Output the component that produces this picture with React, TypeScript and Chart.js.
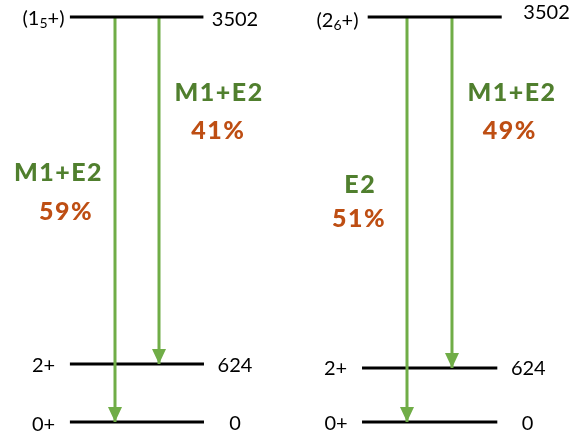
import React, { useEffect, useRef } from 'react';
import { Chart, registerables, LinearScale } from 'chart.js';

// ---------------- data ----------------
const LEVEL_ENERGIES = [3502, 624, 0]; // keV
const ENERGY_LABELS = ['3502', '624', '0'];
const SPINS_LEFT = ['(1₅+)', '2+', '0+'];
const SPINS_RIGHT = ['(2₆+)', '2+', '0+'];
const TRANSITION_FROM = 3502;
const TRANSITION_TO = [0, 624];
const MULTIPOLARITY_LEFT = ['M1+E2', 'M1+E2'];
const BRANCHING_LEFT = [59, 41]; // %
const MULTIPOLARITY_RIGHT = ['E2', 'M1+E2'];
const BRANCHING_RIGHT = [51, 49]; // %

// ---------------- styles / layout ----------------
const W = 573;
const H = 439;
const ARROW_COLOR = '#70AD47';
const MULT_COLOR = '#507F2E';
const BRANCH_COLOR = '#BE4E13';
const LEVEL_COLOR = '#000000';
const FONT = 'Lato, "Open Sans", "DejaVu Sans", sans-serif';
const LABEL_SIZE = 20;
const BOLD_SIZE = 25;
const BOLD_WEIGHT = 900;
const BOLD_SPACING = 1.5;
const HEAD_W = 14;
const HEAD_L = 15;

const PANELS = [
  {
    yAxis: 'yL',
    exponent: 1.1267,
    spins: SPINS_LEFT,
    multipolarity: MULTIPOLARITY_LEFT,
    branching: BRANCHING_LEFT,
    levelX: [[12.2, 35.5], [12.2, 35.6], [12.2, 35.6]],
    spinX: [7.59, 7.59, 7.59],
    spinDy: [1, 1, 1.5],
    energyX: [41.01, 41.01, 41.01],
    energyDy: [2, 1, 1],
    arrowX: [20.07, 27.75],
    multX: [10.07, 38.1],
    multY: [39.29, 20.96],
    branchX: [11.4, 37.96],
    branchY: [48.06, 29.61],
  },
  {
    yAxis: 'yR',
    exponent: 1.1681,
    spins: SPINS_RIGHT,
    multipolarity: MULTIPOLARITY_RIGHT,
    branching: BRANCHING_RIGHT,
    levelX: [[64.17, 87.56], [63.18, 86.79], [63.18, 86.79]],
    spinX: [58.9, 58.55, 58.64],
    spinDy: [3, 0, 1],
    energyX: [95.38, 92.2, 92.06],
    energyDy: [-5, 0, 1],
    arrowX: [71.03, 78.88],
    multX: [62.74, 89.23],
    multY: [41.85, 21.07],
    branchX: [62.53, 88.83],
    branchY: [49.73, 29.68],
  },
];

// ---------------- power scale (schematic level spacing) ----------------
class PowerScale extends LinearScale {
  static id = 'power';
  static defaults = { ...(LinearScale as any).defaults };
  _t(v: number) {
    const p = (this.options as any).exponent ?? 1;
    return Math.sign(v) * Math.pow(Math.abs(v), p);
  }
  getPixelForValue(value: number) {
    const a = this._t((this as any).min);
    const b = this._t((this as any).max);
    return this.getPixelForDecimal((this._t(value) - a) / (b - a));
  }
  getValueForPixel(pixel: number) {
    const p = (this.options as any).exponent ?? 1;
    const a = this._t((this as any).min);
    const b = this._t((this as any).max);
    const tv = a + this.getDecimalForPixel(pixel) * (b - a);
    return Math.sign(tv) * Math.pow(Math.abs(tv), 1 / p);
  }
}

Chart.register(...registerables, PowerScale as any);

const SUB_MAP: Record<string, string> = {
  '₀': '0', '₁': '1', '₂': '2', '₃': '3', '₄': '4',
  '₅': '5', '₆': '6', '₇': '7', '₈': '8', '₉': '9',
};

function drawRich(ctx: CanvasRenderingContext2D, text: string, cx: number, cy: number) {
  const segs: { t: string; sub: boolean }[] = [];
  for (const ch of text) {
    const sub = ch in SUB_MAP;
    const c = sub ? SUB_MAP[ch] : ch;
    const last = segs[segs.length - 1];
    if (last && last.sub === sub) last.t += c;
    else segs.push({ t: c, sub });
  }
  const normalFont = `${LABEL_SIZE}px ${FONT}`;
  const subFont = `${Math.round(LABEL_SIZE * 0.72)}px ${FONT}`;
  let total = 0;
  const widths = segs.map((s) => {
    ctx.font = s.sub ? subFont : normalFont;
    const w = ctx.measureText(s.t).width;
    total += w;
    return w;
  });
  let x = cx - total / 2;
  const base = cy + (LABEL_SIZE * 0.7165) / 2;
  segs.forEach((s, i) => {
    ctx.font = s.sub ? subFont : normalFont;
    ctx.fillText(s.t, x, s.sub ? base + 3 : base);
    x += widths[i];
  });
}

function drawBold(ctx: CanvasRenderingContext2D, text: string, cx: number, cy: number, color: string) {
  ctx.font = `${BOLD_WEIGHT} ${BOLD_SIZE}px ${FONT}`;
  (ctx as any).letterSpacing = `${BOLD_SPACING}px`;
  ctx.fillStyle = color;
  const w = ctx.measureText(text).width - BOLD_SPACING;
  ctx.fillText(text, cx - w / 2, cy + (BOLD_SIZE * 0.7165) / 2);
  (ctx as any).letterSpacing = '0px';
}

const schemePlugin = {
  id: 'levelScheme',
  afterDatasetsDraw(chart: any) {
    const ctx: CanvasRenderingContext2D = chart.ctx;
    const xs = chart.scales.x;
    ctx.save();
    // arrowheads
    chart.data.datasets.forEach((ds: any, i: number) => {
      if (!ds.isArrow) return;
      const meta = chart.getDatasetMeta(i);
      const a = meta.data[0];
      const b = meta.data[meta.data.length - 1];
      const dir = Math.sign(b.y - a.y) || 1;
      ctx.fillStyle = ARROW_COLOR;
      ctx.beginPath();
      ctx.moveTo(b.x, b.y);
      ctx.lineTo(b.x - HEAD_W / 2, b.y - dir * HEAD_L);
      ctx.lineTo(b.x + HEAD_W / 2, b.y - dir * HEAD_L);
      ctx.closePath();
      ctx.fill();
    });
    ctx.textAlign = 'left';
    ctx.textBaseline = 'alphabetic';
    PANELS.forEach((p) => {
      const ys = chart.scales[p.yAxis];
      ctx.fillStyle = '#000';
      LEVEL_ENERGIES.forEach((e, i) => {
        const y = ys.getPixelForValue(e);
        ctx.fillStyle = '#000';
        drawRich(ctx, p.spins[i], xs.getPixelForValue(p.spinX[i]), y + p.spinDy[i]);
        drawRich(ctx, ENERGY_LABELS[i], xs.getPixelForValue(p.energyX[i]), y + p.energyDy[i]);
      });
      p.multipolarity.forEach((m, j) => {
        drawBold(ctx, m, xs.getPixelForValue(p.multX[j]), (p.multY[j] / 100) * chart.height, MULT_COLOR);
        drawBold(ctx, `${p.branching[j]}%`, xs.getPixelForValue(p.branchX[j]), (p.branchY[j] / 100) * chart.height, BRANCH_COLOR);
      });
    });
    ctx.restore();
  },
};

export default function App() {
  const ref = useRef<HTMLCanvasElement>(null);
  useEffect(() => {
    document.body.style.margin = '0';
    const datasets: any[] = [];
    const common = {
      pointRadius: 0,
      pointHoverRadius: 0,
      borderWidth: 3,
      fill: false,
      tension: 0,
      clip: false,
      borderCapStyle: 'butt',
    };
    PANELS.forEach((p) => {
      LEVEL_ENERGIES.forEach((e, i) => {
        datasets.push({
          ...common,
          data: [{ x: p.levelX[i][0], y: e }, { x: p.levelX[i][1], y: e }],
          borderColor: LEVEL_COLOR,
          yAxisID: p.yAxis,
          order: i === 0 ? 0 : 2,
        });
      });
      TRANSITION_TO.forEach((e, j) => {
        datasets.push({
          ...common,
          data: [{ x: p.arrowX[j], y: TRANSITION_FROM }, { x: p.arrowX[j], y: e }],
          borderColor: ARROW_COLOR,
          yAxisID: p.yAxis,
          isArrow: true,
          order: 1,
        });
      });
    });
    const scales: any = {
      x: { type: 'linear', min: 0, max: 100, display: false },
    };
    PANELS.forEach((p) => {
      scales[p.yAxis] = { type: 'power', exponent: p.exponent, min: 0, max: 3502, display: false };
    });
    const chart = new Chart(ref.current!, {
      type: 'line',
      data: { datasets },
      options: {
        responsive: false,
        animation: false,
        events: [],
        layout: { padding: { top: 17, bottom: 17, left: 0, right: 0 } },
        plugins: { legend: { display: false }, tooltip: { enabled: false } },
        scales,
      } as any,
      plugins: [schemePlugin],
    });
    return () => chart.destroy();
  }, []);
  return (
    <div style={{ width: W, height: H }}>
      <canvas ref={ref} width={W} height={H} style={{ display: 'block' }} />
    </div>
  );
}
